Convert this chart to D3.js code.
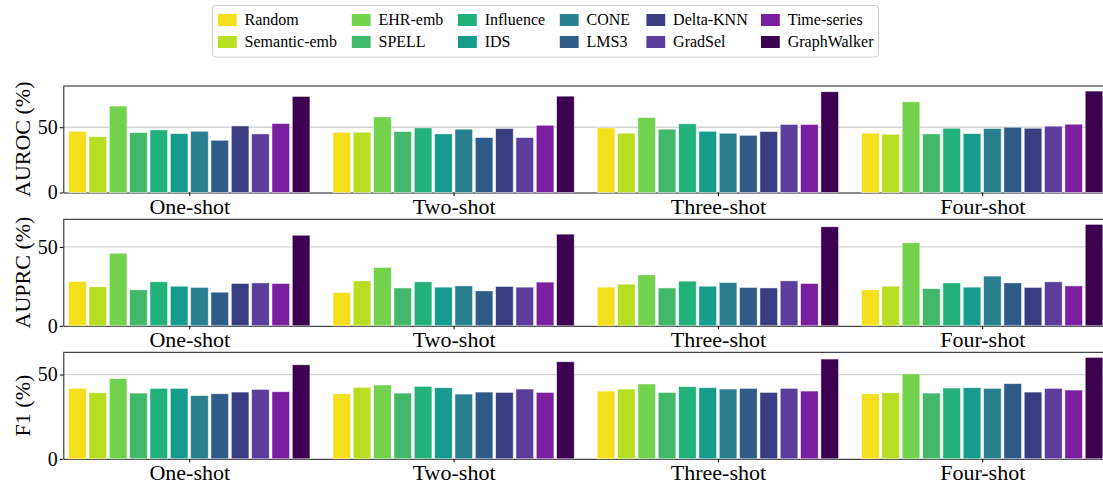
<!DOCTYPE html>
<html>
<head>
<meta charset="utf-8">
<script src="https://cdn.jsdelivr.net/npm/d3@7"></script>
<style>
  body { margin: 0; background: #fff; }
  svg text { font-family: "Liberation Serif", "Times New Roman", serif; }
</style>
</head>
<body>
<div id="chart"></div>
<script>
var methods = ["Random", "Semantic-emb", "EHR-emb", "SPELL", "Influence", "IDS",
               "CONE", "LMS3", "Delta-KNN", "GradSel", "Time-series", "GraphWalker"];
var colors = ["#f4df1c", "#b7de20", "#72d14d", "#41b86a", "#22b07b", "#159c8d",
              "#297f8f", "#2e5b88", "#3b3d82", "#5b3e9c", "#7a1fa0", "#3c0050"];
var shots = ["One-shot", "Two-shot", "Three-shot", "Four-shot"];

// AUROC (%)
var aurocOne   = [46.9, 42.8, 66.2, 45.9, 47.9, 45.1, 46.9, 40.0, 51.0, 44.9, 52.8, 73.6];
var aurocTwo   = [46.2, 46.2, 57.9, 46.7, 49.5, 44.9, 48.5, 42.1, 49.0, 42.1, 51.5, 73.8];
var aurocThree = [49.5, 45.4, 57.4, 48.5, 52.6, 46.9, 45.4, 43.8, 46.7, 52.1, 52.1, 77.2];
var aurocFour  = [45.4, 44.6, 69.5, 44.9, 49.2, 45.1, 49.0, 50.0, 49.2, 50.8, 52.3, 77.7];
// AUPRC (%)
var auprcOne   = [28.1, 24.7, 46.0, 22.8, 27.9, 25.1, 24.3, 21.3, 26.8, 27.2, 26.8, 57.4];
var auprcTwo   = [21.1, 28.5, 37.0, 24.0, 27.9, 24.5, 25.3, 22.1, 24.9, 24.5, 27.7, 58.1];
var auprcThree = [24.5, 26.4, 32.3, 24.0, 28.3, 25.1, 27.4, 24.3, 24.0, 28.5, 26.8, 62.8];
var auprcFour  = [22.8, 25.1, 52.6, 23.6, 27.2, 24.5, 31.5, 27.2, 24.3, 27.9, 25.3, 64.3];
// F1 (%)
var f1One   = [41.8, 39.2, 47.6, 39.0, 41.8, 41.8, 37.5, 38.6, 39.6, 41.2, 39.8, 55.8];
var f1Two   = [38.6, 42.4, 43.8, 39.0, 43.0, 42.2, 38.4, 39.6, 39.4, 41.4, 39.4, 57.6];
var f1Three = [40.2, 41.4, 44.4, 39.4, 42.8, 42.2, 41.4, 41.8, 39.4, 41.8, 40.2, 59.2];
var f1Four  = [38.6, 39.2, 50.4, 39.0, 42.0, 42.2, 41.8, 44.6, 39.6, 41.8, 40.8, 60.2];

var panels = [
  { label: "AUROC (%)", groups: [aurocOne, aurocTwo, aurocThree, aurocFour], top: 86 },
  { label: "AUPRC (%)", groups: [auprcOne, auprcTwo, auprcThree, auprcFour], top: 219.3 },
  { label: "F1 (%)",    groups: [f1One, f1Two, f1Three, f1Four], top: 352.3 }
];

var width = 1103, height = 486;
var panelHeight = 106.5;
var left = 63.3;
var serif = "'Liberation Serif', 'Times New Roman', serif";

var svg = d3.select("#chart").append("svg")
  .attr("width", width)
  .attr("height", height);

/* group positions in data units, like a matplotlib grouped bar */
var x = d3.scaleLinear()
  .domain([-0.4767, 3.4767])
  .range([left, 1108.2]);

var inner = d3.scaleBand()
  .domain(methods)
  .range([-6 / 13, 6 / 13]);

var barW = 0.8 / 12;

panels.forEach(function(p) {
  var maxV = d3.max(p.groups, g => d3.max(g));
  var y = d3.scaleLinear()
    .domain([0, maxV * 1.05])
    .range([p.top + panelHeight, p.top]);

  var g = svg.append("g");

  // grid line at 50
  g.append("line")
    .attr("x1", left).attr("x2", width)
    .attr("y1", y(50)).attr("y2", y(50))
    .attr("stroke", "#d3d3d3")
    .attr("stroke-width", 1.3);

  // top spine
  g.append("line")
    .attr("x1", left).attr("x2", width)
    .attr("y1", p.top).attr("y2", p.top)
    .attr("stroke", "#1a1a1a")
    .attr("stroke-width", 1);

  // x axis (bottom spine, ticks, group labels)
  var xAxis = d3.axisBottom(x)
    .tickValues([0, 1, 2, 3])
    .tickFormat(i => shots[i])
    .tickSize(3.5)
    .tickSizeOuter(0)
    .tickPadding(2.5);

  var xg = g.append("g")
    .attr("transform", `translate(0, ${y(0)})`)
    .call(xAxis)
    .attr("font-family", serif);
  xg.select(".domain").attr("stroke", "#1a1a1a");
  xg.selectAll("text")
    .attr("fill", "#000")
    .style("font-size", "22px")
    .style("font-family", serif);

  // bars
  var data = [];
  p.groups.forEach(function(vals, gi) {
    vals.forEach(function(v, k) {
      data.push({ group: gi, method: methods[k], value: v, color: colors[k] });
    });
  });

  g.append("g")
    .selectAll("rect")
    .data(data).enter()
    .append("rect")
    .attr("x", d => x(d.group + inner(d.method) + inner.bandwidth() / 2 - barW / 2))
    .attr("width", d => x(barW) - x(0))
    .attr("y", d => y(d.value))
    .attr("height", d => y(0) - y(d.value))
    .attr("fill", d => d.color)
    .attr("stroke", "#ffffff")
    .attr("stroke-opacity", 0.6)
    .attr("stroke-width", 0.8);

  // y axis
  var yAxis = d3.axisLeft(y)
    .tickValues([0, 50])
    .tickSize(3.5)
    .tickSizeOuter(0)
    .tickPadding(2);

  var yg = g.append("g")
    .attr("transform", `translate(${left}, 0)`)
    .call(yAxis)
    .attr("font-family", serif);
  yg.select(".domain").attr("stroke", "#1a1a1a");
  yg.selectAll("text")
    .attr("fill", "#000")
    .style("font-size", "20px")
    .style("font-family", serif);

  // y label
  g.append("text")
    .attr("transform", `translate(30, ${p.top + panelHeight / 2}) rotate(-90)`)
    .attr("text-anchor", "middle")
    .style("font-size", "22px")
    .style("font-family", serif)
    .attr("fill", "#000")
    .text(p.label);
});

/* legend */
var legendCols = [217.9, 351.8, 458, 559.8, 646.4, 761];
var legendRows = [20, 42];

var legend = svg.append("g").attr("class", "legend");

legend.append("rect")
  .attr("x", 212.5).attr("y", 5.5)
  .attr("width", 666).attr("height", 51.5)
  .attr("rx", 3)
  .attr("fill", "#fff")
  .attr("stroke", "#d0d0d0")
  .attr("stroke-width", 1);

var items = legend.selectAll(".item")
  .data(methods).enter()
  .append("g")
  .attr("class", "item")
  .attr("transform", (d, i) => `translate(${legendCols[Math.floor(i / 2)]}, ${legendRows[i % 2]})`);

items.append("rect")
  .attr("x", 0).attr("y", -6)
  .attr("width", 18.8).attr("height", 12)
  .attr("fill", (d, i) => colors[i]);

items.append("text")
  .attr("x", 26.7)
  .attr("y", 0)
  .attr("dy", "0.33em")
  .style("font-size", "16px")
  .style("font-family", serif)
  .attr("fill", "#000")
  .text(d => d);
</script>
</body>
</html>
